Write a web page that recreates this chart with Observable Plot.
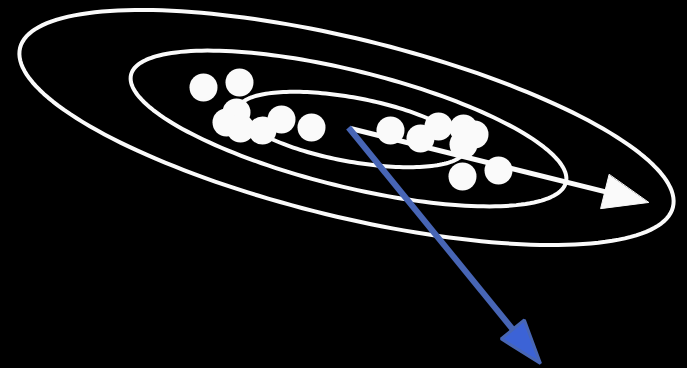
<!DOCTYPE html>
<html>
<head>
<meta charset="utf-8">
<script src="https://cdn.jsdelivr.net/npm/d3@7"></script>
<script src="https://cdn.jsdelivr.net/npm/@observablehq/plot@0.6"></script>
<style>
  html, body { margin: 0; padding: 0; background: #000; }
  #chart svg { display: block; background: #000; }
</style>
</head>
<body>
<div id="chart"></div>
<script>
// Sample points (diagram coordinates, y downward)
const dotX = [203, 239, 236, 226, 240, 262, 281, 311, 390, 420, 438, 463, 474, 463, 462, 498];
const dotY = [87, 82, 112, 122, 128, 130, 119, 127, 130, 138, 126, 128, 134, 144, 176, 170];

// Concentric contour ellipses
const ellName = ["outer", "middle", "inner"];
const ellCx = [346, 348, 351];
const ellCy = [127, 128, 129];
const ellA = [336, 224, 115];
const ellB = [89, 58, 32];
const ellAngle = [13.7, 13.9, 10.4];

// Principal-direction arrows
const arrowName = ["major", "minor"];
const arrowX1 = [350, 348];
const arrowY1 = [128, 127];
const arrowX2 = [648, 540];
const arrowY2 = [202, 363];

const W = 687, H = 368;

// Build ellipse outlines
const ellipsePts = [];
ellName.forEach((name, i) => {
  const th = ellAngle[i] * Math.PI / 180;
  const n = 180;
  for (let k = 0; k < n; k++) {
    const t = 2 * Math.PI * k / n;
    const ex = ellA[i] * Math.cos(t), ey = ellB[i] * Math.sin(t);
    ellipsePts.push({
      name,
      x: ellCx[i] + ex * Math.cos(th) - ey * Math.sin(th),
      y: ellCy[i] + ex * Math.sin(th) + ey * Math.cos(th)
    });
  }
});

// Arrow shafts and heads
const headLen = [45, 44];
const headHalf = [17.5, 15];
const shafts = [], heads = [];
arrowName.forEach((name, i) => {
  const dx = arrowX2[i] - arrowX1[i], dy = arrowY2[i] - arrowY1[i];
  const L = Math.hypot(dx, dy);
  const ux = dx / L, uy = dy / L, px = -uy, py = ux;
  const bx = arrowX2[i] - ux * headLen[i], by = arrowY2[i] - uy * headLen[i];
  shafts.push({name, x1: arrowX1[i], y1: arrowY1[i], x2: bx + ux * 2, y2: by + uy * 2});
  heads.push({name, x: arrowX2[i], y: arrowY2[i]});
  heads.push({name, x: bx + px * headHalf[i], y: by + py * headHalf[i]});
  heads.push({name, x: bx - px * headHalf[i], y: by - py * headHalf[i]});
});

const dots = dotX.map((x, i) => ({x, y: dotY[i]}));

const chart = Plot.plot({
  width: W,
  height: H,
  margin: 0,
  x: {domain: [0, W], range: [0, W], axis: null},
  y: {domain: [0, H], range: [0, H], axis: null},
  style: {background: "#000"},
  marks: [
    Plot.line(ellipsePts, {x: "x", y: "y", z: "name", curve: "linear-closed", stroke: "#fafafa", strokeWidth: 4}),
    Plot.link(shafts.filter(d => d.name === "major"), {x1: "x1", y1: "y1", x2: "x2", y2: "y2", stroke: "#fafafa", strokeWidth: 5}),
    Plot.line(heads.filter(d => d.name === "major"), {x: "x", y: "y", curve: "linear-closed", fill: "#fafafa", stroke: "#fafafa", strokeWidth: 1}),
    Plot.dot(dots, {x: "x", y: "y", r: 14, fill: "#fafafa", stroke: "none"}),
    Plot.link(shafts.filter(d => d.name === "minor"), {x1: "x1", y1: "y1", x2: "x2", y2: "y2", stroke: "#4765b5", strokeWidth: 6}),
    Plot.line(heads.filter(d => d.name === "minor"), {x: "x", y: "y", curve: "linear-closed", fill: "#3c63d6", stroke: "#4866b4", strokeWidth: 3, strokeLinejoin: "miter"})
  ]
});
document.getElementById("chart").appendChild(chart);
</script>
</body>
</html>
